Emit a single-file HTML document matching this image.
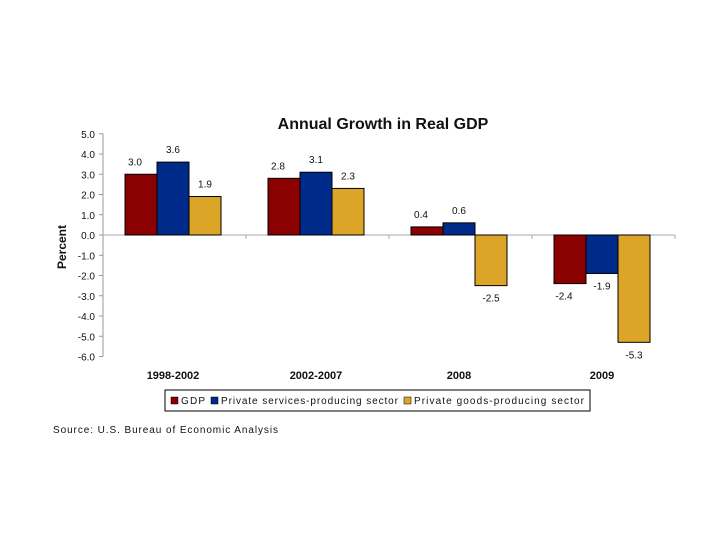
<!DOCTYPE html>
<html><head><meta charset="utf-8"><style>
body{margin:0;background:#fff;width:720px;height:540px;overflow:hidden;font-family:"Liberation Sans",Arial,sans-serif}
</style></head><body>
<svg width="720" height="540" font-family="Liberation Sans, Arial, sans-serif">
<text x="383" y="129" font-size="16" font-weight="bold" text-anchor="middle" fill="#111">Annual Growth in Real GDP</text>
<text transform="translate(66,247) rotate(-90)" font-size="12" font-weight="bold" text-anchor="middle" fill="#111">Percent</text>
<g id="axes"></g>
<g id="bars"></g>
<g>
<rect x="165" y="390" width="425" height="21" fill="#fff" stroke="#000" stroke-width="1"/>
<rect x="171" y="397" width="7" height="7" fill="#8b0000" stroke="#000" stroke-width="0.5"/>
<text x="181" y="404" font-size="10" fill="#111" textLength="24" lengthAdjust="spacing">GDP</text>
<rect x="211" y="397" width="7" height="7" fill="#002a8a" stroke="#000" stroke-width="0.5"/>
<text x="221" y="404" font-size="10" fill="#111" textLength="177" lengthAdjust="spacing">Private services-producing sector</text>
<rect x="404" y="397" width="7" height="7" fill="#dca528" stroke="#000" stroke-width="0.5"/>
<text x="414" y="404" font-size="10" fill="#111" textLength="170" lengthAdjust="spacing">Private goods-producing sector</text>
</g>
<text x="53" y="433" font-size="10" fill="#111" textLength="225" lengthAdjust="spacing">Source: U.S. Bureau of Economic Analysis</text>
</svg>
<script>
const categories=["1998-2002","2002-2007","2008","2009"];
const gdp=[3.0,2.8,0.4,-2.4];
const services=[3.6,3.1,0.6,-1.9];
const goods=[1.9,2.3,-2.5,-5.3];
const yTicks=[5,4,3,2,1,0,-1,-2,-3,-4,-5,-6];
const NS="http://www.w3.org/2000/svg";
const x0=103,band=143,y0=235,ppu=20.25,bw=32;
function y(v){return y0-v*ppu;}
function mk(t,a,p){const e=document.createElementNS(NS,t);for(const k in a)e.setAttribute(k,a[k]);p.appendChild(e);return e;}
const ax=document.getElementById('axes'),bg=document.getElementById('bars');
const axl=mk('line',{x1:x0,x2:x0,y1:y(5),y2:y(-6),stroke:'#999'},ax);


yTicks.forEach(v=>{
 mk('line',{x1:x0-4,x2:x0,y1:y(v),y2:y(v),stroke:'#999'},ax);
 const t=mk('text',{x:x0-8,y:y(v)+4,'font-size':10,'text-anchor':'end',fill:'#111'},ax);
 t.textContent=v.toFixed(1);
 
 
});
const xl=mk('line',{x1:x0,x2:x0+band*4,y1:y0,y2:y0,stroke:'#aaa'},ax);


for(let i=1;i<=4;i++)mk('line',{x1:x0+band*i,x2:x0+band*i,y1:y0,y2:y0+4,stroke:'#aaa'},ax);
const series=[[gdp,'#8b0000','gdp'],[services,'#002a8a','services'],[goods,'#dca528','goods']];
categories.forEach((c,i)=>{
 const cx=x0+band*i+band/2-1.5;
 const t=mk('text',{x:cx,y:379,'font-size':11,'font-weight':'bold','text-anchor':'middle',fill:'#111'},ax);
 t.textContent=c;
 
 
 series.forEach(([arr,col,nm],j)=>{
  const v=arr[i],bx=cx-bw*1.5+j*bw;
  const r=mk('rect',{x:bx,y:Math.min(y(v),y0),width:bw,height:Math.abs(y(v)-y0),fill:col,stroke:'#000','stroke-width':1},bg);
  
  
  const l=mk('text',{x:bx+bw/2-(j==0?6:0),y:v>=0?y(v)-9:y(v)+16,'font-size':10,'text-anchor':'middle',fill:'#111'},bg);
  l.textContent=v.toFixed(1);
  
  
 });
});
</script>
</body></html>
